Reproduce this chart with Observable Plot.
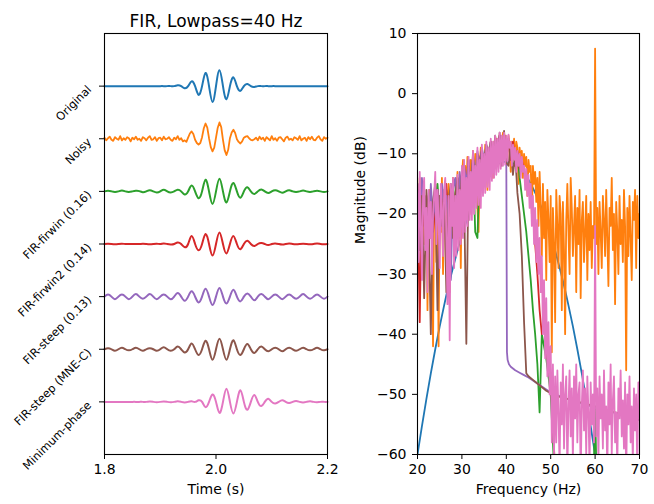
<!DOCTYPE html>
<html>
<head>
<meta charset="utf-8">
<script src="https://cdn.jsdelivr.net/npm/d3@7"></script>
<script src="https://cdn.jsdelivr.net/npm/@observablehq/plot@0.6"></script>
<style>
  html, body { margin: 0; padding: 0; background: #fff; }
  #fig { position: relative; width: 654px; height: 504px; overflow: hidden; background: #fff; }
  #left, #right { position: absolute; top: 0; }
  #left { left: 0; }
  #right { left: 340px; }
</style>
</head>
<body>
<div id="fig"><div id="left"></div><div id="right"></div></div>
<script>
// ---------- labels & ticks ----------
const chartTitle = "FIR, Lowpass=40 Hz";
const signalLabels = ["Original", "Noisy", "FIR-firwin (0.16)", "FIR-firwin2 (0.14)",
  "FIR-steep (0.13)", "FIR-steep (MNE-C)", "Minimum-phase"];
const timeTicks = [1.8, 2.0, 2.2];
const freqTicks = [20, 30, 40, 50, 60, 70];
const dbTicks = [10, 0, -10, -20, -30, -40, -50, -60];

// ---------- time-domain signals (units of 1/30, offset applied per row) ----------
const tStart = 1.8;
const coarseStepS = 0.00625;   // sampling of the smooth traces
const fineStepS = 0.003125;    // sampling of the noisy trace

const original = [
  0,0,0,0,0,0,0,0,
  0,0,0,0,0,0,0,0,
  0,0,0,0,0,0.015,0,-0.04,
  0,0.09,0,-0.165,0,0.25,0,-0.30,
  0,0.30,0,-0.25,0,0.165,0,-0.09,
  0,0.04,0,-0.015,0,0,0,0,
  0,0,0,0,0,0,0,0,
  0,0,0,0,0,0,0,0,
  0];
const noisy = [
  0.02,-0.03,0.01,0.04,-0.02,-0.04,0.03,0.00,
  -0.02,0.05,-0.03,0.01,-0.02,0.03,0.01,-0.05,
  0.02,-0.01,0.04,-0.02,0.00,-0.04,0.03,0.01,
  -0.03,0.02,0.05,-0.02,-0.01,0.03,-0.04,0.01,
  0.02,-0.03,0.04,-0.01,0.00,0.03,-0.02,-0.04,
  0.02,-0.01,0.05,-0.02,0.01,-0.05,-0.03,-0.06,
  0.02,0.10,0.14,0.09,-0.02,-0.08,-0.11,-0.08,
  0.03,0.20,0.29,0.21,0.01,-0.16,-0.24,-0.17,
  0.02,0.21,0.31,0.22,-0.02,-0.22,-0.31,-0.21,
  0.01,0.12,0.17,0.11,-0.01,-0.06,-0.09,-0.05,
  0.02,0.04,0.05,0.01,-0.02,-0.03,-0.01,0.02,
  -0.03,0.04,-0.01,0.02,-0.04,0.03,0.00,-0.03,
  0.05,-0.02,0.01,-0.04,0.02,0.03,-0.01,-0.05,
  0.02,0.04,-0.02,0.00,-0.03,0.03,0.01,-0.02,
  0.05,-0.03,0.00,0.02,-0.04,0.03,-0.01,0.04,
  -0.02,-0.03,0.02,0.05,-0.01,-0.04,0.03,0.00,
  0.02];
const firwin = [
  0,0.01,0,-0.01,0,0.015,0,-0.01,
  0,0.01,0.005,-0.015,0,0.02,0,-0.02,
  0,0.03,0,-0.02,0,0.03,0,-0.06,
  0,0.11,0,-0.13,0,0.22,0,-0.24,
  0,0.24,0,-0.21,0,0.16,0,-0.12,
  0,0.08,0,-0.05,0,0.035,0,-0.03,
  0,0.02,0,-0.025,0,0.02,0,-0.01,
  0,0.015,0,-0.01,0,0.01,0,-0.01,
  0];
const firwin2 = [
  0,0.005,0,-0.005,0,0.005,0,0,
  0,0,0,0.005,0,-0.005,0,0.005,
  0,0.01,0,-0.01,0,0.03,0,-0.06,
  0,0.15,0,-0.12,0,0.19,0,-0.22,
  0,0.22,0,-0.18,0,0.15,0,-0.10,
  0,0.06,0,-0.04,0,0.02,0,-0.02,
  0,0.01,0,-0.01,0,0.01,0,-0.005,
  0,0.005,0,-0.005,0,0.01,0,-0.005,
  0];
const steep = [
  0,0.04,0,-0.05,0,0.04,0,-0.05,
  0,0.05,0,-0.04,0,0.05,0,-0.05,
  0,0.04,0,-0.05,0,0.07,0,-0.08,
  0,0.10,0,-0.11,0,0.15,0,-0.16,
  0,0.165,0,-0.13,0,0.13,0,-0.09,
  0,0.06,0,-0.07,0,0.05,0,-0.05,
  0,0.04,0,-0.05,0,0.04,0,-0.04,
  0,0.05,0,-0.04,0,0.04,0,-0.04,
  0];
const steepMneC = [
  0,0.02,0,-0.03,0,0.03,0,-0.02,
  0,0.03,0,-0.03,0,0.02,0,-0.03,
  0,0.04,0,-0.03,0,0.05,0,-0.06,
  0,0.11,0,-0.11,0,0.16,0,-0.20,
  0,0.20,0,-0.20,0,0.17,0,-0.11,
  0,0.10,0,-0.07,0,0.05,0,-0.04,
  0,0.03,0,-0.04,0,0.03,0,-0.03,
  0,0.03,0,-0.02,0,0.03,0,-0.02,
  0];
const minPhase = [
  0,0,0,0,0,0,0,0,
  0,0,0,0,0,0.005,0,-0.005,
  0,0.005,0,-0.005,0,0.01,0,-0.01,
  0,0.01,0,0.03,0,-0.10,0,0.14,
  0,-0.21,0,0.25,0,-0.22,0,0.22,
  0,-0.15,0,0.13,0,-0.08,0,0.06,
  0,-0.03,0,0.03,0,-0.02,0,0.015,
  0,-0.01,0,0.01,0,-0.005,0,0,
  0];

// ---------- magnitude spectra (dB) ----------
const fStart = 20;
const specOriginal = [ // 1 Hz steps from 20 Hz
  -60,-55.3,-50.8,-46.5,-42.5,-38.7,-35.2,-31.9,-28.9,-26.1,
  -23.5,-21.2,-19.1,-17.3,-15.7,-14.3,-13.2,-12.4,-11.8,-11.4,
  -11.3,-11.4,-11.8,-12.4,-13.2,-14.3,-15.7,-17.3,-19.1,-21.2,
  -23.5,-26.1,-28.9,-31.9,-35.2,-38.7,-42.5,-46.5,-50.8,-55.3,
  -60,-65];
const specNoisy = [ // 0.25 Hz steps from 20 Hz
  -16,-22,-14,-27,-18,-15,-25,-19,
  -17,-36,-20,-16,-24,-21,-42,-18,
  -15,-28,-20,-42,-17,-23,-14,-30,
  -19,-16,-26,-21,-15,-33,-18,-22,
  -14,-27,-17,-20,-13,-24,-16,-29,
  -14,-11,-18,-12,-16,-10.5,-13,-20,
  -11,-14,-9.5,-17,-10,-13,-19,-23,
  -12,-9,-15,-10,-13,-8.5,-11,-16,
  -9,-12,-8,-10,-14,-8,-9.5,-7.5,
  -11,-8,-7,-12,-8,-6.5,-9,-7,
  -8,-11,-7,-9,-13,-8,-10,-7.5,
  -12,-8,-9,-15,-9,-11,-9.5,-14,
  -10,-12,-10.5,-17,-11,-13,-12,-20,
  -12,-15,-13,-18,-14,-22,-13,-19,
  -27,-15,-24,-18,-31,-16,-21,-28,
  -17,-43,-19,-25,-38,-16,-22,-29,
  -17,-20,-36,-18,-26,-40,-21,-15,
  -23,-30,-14,-19,-27,-22,-17,-33,
  -19,-25,-16,-34,-21,-18,-28,-23,
  -17,-31,-20,-26,-18,-29,-22,-24,
  7.5,-25,-19,-30,-18,-23,-29,-17,
  -21,-27,-16,-24,-32,-19,-22,-14,
  -26,-20,-35,-18,-23,-30,-17,-25,
  -21,-28,-16,-22,-46,-19,-27,-17,
  -24,-31,-18,-21,-16,-29,-17,-24,
  -20];
const specFirwin = [ // 0.5 Hz steps from 20 Hz
  -17,-20,-15,-21,-18,-19,-16,-22,-18,-15,
  -20,-17,-19,-16,-21,-18,-15,-20,-17,-14,
  -20,-13,-17,-12,-19,-11,-23,-24,-12,-10,
  -14,-9,-11.5,-8.5,-12,-8,-11,-7.5,-10.5,-7.5,
  -10,-8,-11,-8.5,-12,-10,-14,-17,-20,-23,
  -27,-31,-36,-40,-45,-53,-40,-42,-44,-47,
  -50,-58,-66,-70,-70,-70,-70,-70,-70,-70,
  -70,-70,-70,-70,-70,-70,-70,-70,-70,-70,
  -52,-70,-70,-70,-70,-70,-70,-70,-70,-70,
  -70,-70,-70,-70,-70,-70,-70,-70,-70,-70,
  -70];
const specFirwin2 = [ // 0.5 Hz steps from 20 Hz
  -16,-38,-15,-22,-19,-21,-17,-23,-18,-16,
  -21,-16,-20,-15,-23,-17,-16,-21,-16,-14,
  -21,-12,-16,-11,-18,-10.5,-18,-14,-11,-9.5,
  -13,-9,-12,-8,-12.5,-7.5,-11.5,-7,-11,-7,
  -11,-7.5,-11,-8,-12,-9.5,-12.5,-11,-13,-14,
  -15,-17,-20,-25,-30,-36,-40,-38,-43,-45,
  -47,-55,-63,-70,-70,-70,-70,-70,-70,-70,
  -70,-70,-70,-70,-70,-70,-70,-70,-70,-70,
  -70,-70,-70,-70,-70,-70,-70,-70,-70,-70,
  -70,-70,-70,-70,-70,-70,-70,-70,-70,-70,
  -70];
const specSteepPass = [ // 0.5 Hz steps, 20-40 Hz
  -16,-23,-14,-20,-17,-25,-15,-21,-18,-16,
  -24,-15,-19,-17,-22,-31,-16,-14,-21,-13,
  -17,-12,-15,-11,-16,-10,-14,-9.5,-12,-9,
  -11,-8.5,-10,-8,-10.5,-7.5,-9,-7,-9.5,-8,
  -11];
const specSteepStopHz = [40.15,40.3,40.6,41,42,43,44,45,47,50,55,60,65,70];
const specSteepStopDb = [-43,-44.3,-45,-45.4,-46,-46.4,-46.8,-47.2,-48.2,-49.7,-51.1,-52.2,-53.2,-54.3];
const specMneCPass = [ // 0.5 Hz steps, 20-44 Hz
  -15,-26,-17,-34,-16,-21,-40,-18,-15,-36,
  -17,-22,-16,-33,-18,-15,-24,-17,-14,-20,
  -13,-17,-41.6,-12,-16,-11,-18,-10,-13,-9.5,
  -12,-8.5,-11,-8,-11.5,-7,-12,-6.5,-12,-6.2,
  -11.5,-12,-8.5,-13.5,-10,-16.5,-20,-27,-38];
const specMneCStopHz = [44.5,45,46,47,48,49,50,52,54,56,58,60,62,64,66,68,70];
const specMneCStopDb = [-46.5,-47,-47.6,-48.2,-48.8,-49.4,-49.8,-50.4,-50.8,-51.2,-51.6,-52,-52.5,-52.9,-53.3,-53.8,-54.2];
const specMinPhase = [ // 0.25 Hz steps from 20 Hz
  -15,-28,-13,-22,-31,-17,-14,-26,
  -19,-33,-16,-24,-18,-30,-20,-17,
  -13,-25,-16,-21,-29,-15,-19,-27,
  -16,-14,-24,-35,-17,-41,-15,-22,
  -14,-29,-17,-27,-13.5,-26,-16,-25,
  -12,-24,-11,-23,-14,-22,-10.5,-21,
  -13,-21,-9.5,-20,-12,-19,-9,-18.5,
  -11,-19,-8.5,-17,-10,-16.5,-8,-15.5,
  -9,-16,-7.5,-14.5,-8,-14,-7,-13.5,
  -7.5,-13,-6.5,-12.5,-7,-12,-6.5,-11.8,
  -7,-11.2,-6.8,-9,-8,-12,-8.5,-11,
  -9,-13,-9.5,-12,-10,-14,-10.5,-13,
  -12,-16,-12.5,-17,-13.5,-19,-15,-22,
  -17,-25,-19,-28,-21,-30,-24,-33,
  -27,-40,-31,-44,-34,-47,-38,-50,
  -42,-58,-45,-60,-47,-58,-46,-53,
  -62,-48,-55,-45,-59,-50,-47,-63,
  -52,-46,-57,-49,-61,-47,-54,-45,
  -58,-50,-48,-64,-52,-46,-56,-49,
  -60,-47,-53,-62,-48,-55,-50,-58,
  -22,-57,-49,-61,-47,-54,-50,-59,
  -46,-56,-52,-63,-48,-55,-45,-60,
  -51,-47,-58,-53,-62,-49,-54,-46,
  -57,-51,-59,-48,-64,-50,-55,-47,
  -58,-52,-61,-49,-56,-50,-63,-48,
  -54];

// ---------- styles ----------
const palette = ["#1f77b4","#ff7f0e","#2ca02c","#d62728","#9467bd","#8c564b","#e377c2"];
const font = "DejaVu Sans, Verdana, sans-serif";

// ---------- build tables ----------
const timeSeries = [original, noisy, firwin, firwin2, steep, steepMneC, minPhase];
const timeSteps = [coarseStepS, fineStepS, coarseStepS, coarseStepS, coarseStepS, coarseStepS, coarseStepS];
const timeRows = timeSeries.flatMap((vals, s) =>
  vals.map((v, j) => ({t: tStart + j * timeSteps[s], y: v - s, name: signalLabels[s]})));

const grid = (n, step) => d3.range(n).map(i => fStart + i * step);
const specRows = [];
function addSpec(name, hz, db) { hz.forEach((f, i) => specRows.push({f, db: db[i], name})); }
addSpec(signalLabels[0], grid(specOriginal.length, 1), specOriginal);
addSpec(signalLabels[1], grid(specNoisy.length, 0.25), specNoisy);
addSpec(signalLabels[2], grid(specFirwin.length, 0.5), specFirwin);
addSpec(signalLabels[3], grid(specFirwin2.length, 0.5), specFirwin2);
addSpec(signalLabels[4], grid(specSteepPass.length, 0.5).concat(specSteepStopHz), specSteepPass.concat(specSteepStopDb));
addSpec(signalLabels[5], grid(specMneCPass.length, 0.5).concat(specMneCStopHz), specMneCPass.concat(specMneCStopDb));
addSpec(signalLabels[6], grid(specMinPhase.length, 0.25), specMinPhase);

const colorScale = {domain: signalLabels, range: palette};
const baseStyle = {fontFamily: font, fontSize: "14px", color: "#000", background: "#fff", overflow: "visible"};

// ---------- left: time domain ----------
const left = Plot.plot({
  width: 340, height: 504,
  marginLeft: 104, marginRight: 13, marginTop: 33, marginBottom: 50,
  style: baseStyle,
  x: {domain: [1.8, 2.2]},
  y: {domain: [-7, 1]},
  color: colorScale,
  marks: [
    Plot.line(timeRows.filter(d => d.name !== "Noisy"), {x: "t", y: "y", z: "name", stroke: "name", curve: "natural", strokeWidth: 2}),
    Plot.line(timeRows.filter(d => d.name === "Noisy"), {x: "t", y: "y", z: "name", stroke: "name", strokeWidth: 1.8}),
    Plot.frame({stroke: "#000", strokeWidth: 1.1}),
    Plot.axisX({ticks: timeTicks, tickFormat: d3.format(".1f"), tickSize: 5, tickPadding: 5, label: null}),
    Plot.axisY({ticks: signalLabels.map((_, i) => -i), tickFormat: () => "", tickSize: 5, label: null}),
    Plot.text(signalLabels, {frameAnchor: "left", y: (d, i) => -i, dx: -15, dy: 1.5, rotate: -45,
      textAnchor: "end", lineAnchor: "middle", fontSize: 11.4}),
    Plot.text(["Time (s)"], {frameAnchor: "bottom", dy: 39, fontSize: 14}),
    Plot.text([chartTitle], {frameAnchor: "top", dy: -19, fontSize: 17})
  ]
});
document.getElementById("left").append(left);

// ---------- right: spectrum ----------
const right = Plot.plot({
  width: 314, height: 504,
  marginLeft: 77, marginRight: 15, marginTop: 33, marginBottom: 50,
  style: baseStyle,
  x: {domain: [20, 70]},
  y: {domain: [-60, 10]},
  color: colorScale,
  marks: [
    Plot.line(specRows.filter(d => d.name === "Original"), {x: "f", y: "db", z: "name", stroke: "name", curve: "natural", strokeWidth: 1.8, clip: true}),
    Plot.line(specRows.filter(d => d.name !== "Original"), {x: "f", y: "db", z: "name", stroke: "name", strokeWidth: 1.8, clip: true}),
    Plot.frame({stroke: "#000", strokeWidth: 1.1}),
    Plot.axisX({ticks: freqTicks, tickFormat: d3.format("d"), tickSize: 5, tickPadding: 5, label: null}),
    Plot.axisY({ticks: dbTicks, tickFormat: d3.format("d"), tickSize: 5, tickPadding: 6, label: null}),
    Plot.text(["Frequency (Hz)"], {frameAnchor: "bottom", dy: 39, fontSize: 14}),
    Plot.text(["Magnitude (dB)"], {frameAnchor: "left", dx: -57, rotate: -90, fontSize: 14})
  ]
});
document.getElementById("right").append(right);
</script>
</body>
</html>
